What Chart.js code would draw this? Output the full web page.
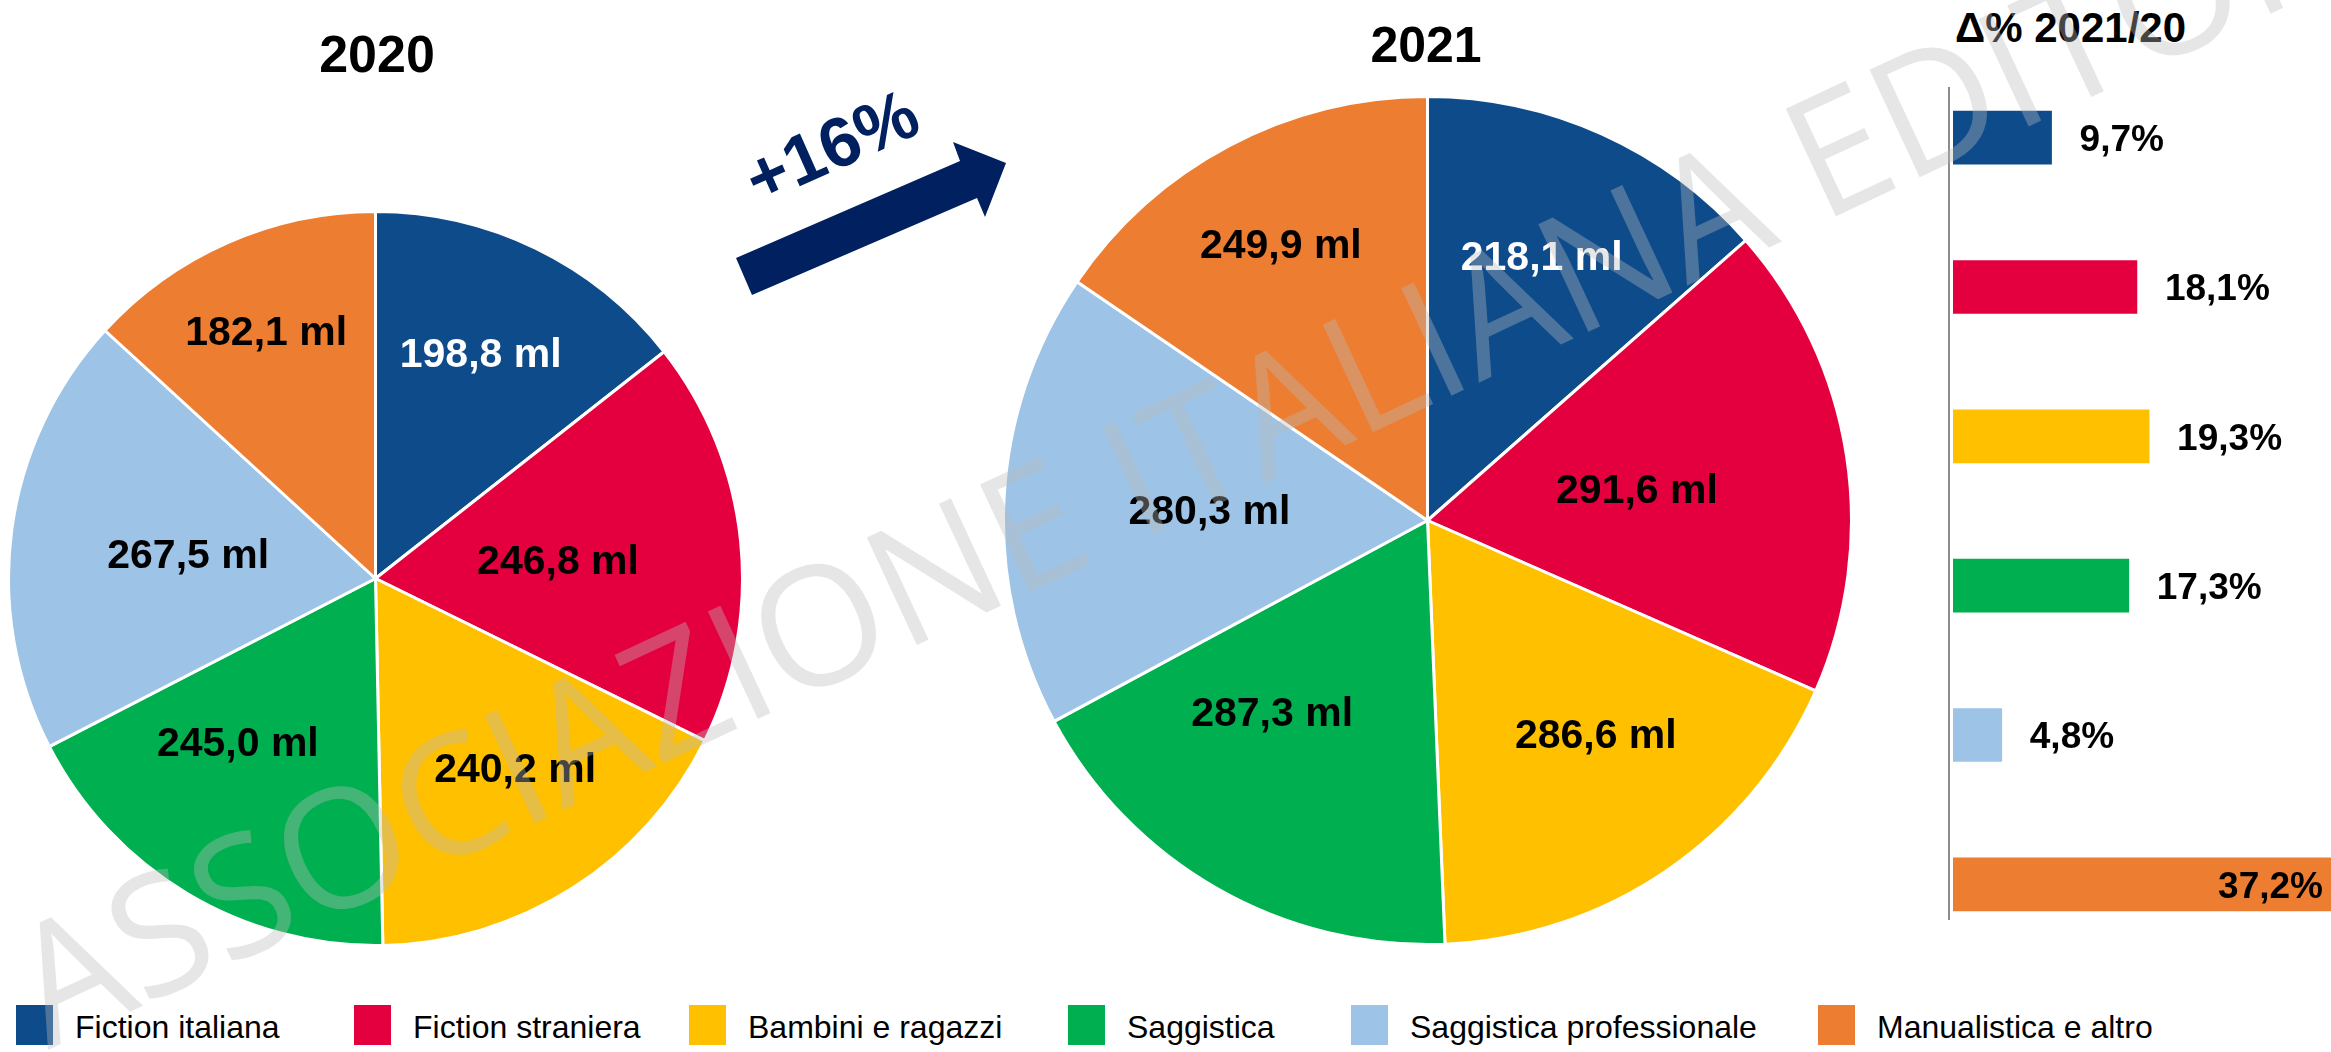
<!DOCTYPE html>
<html><head><meta charset="utf-8">
<script src="https://cdn.jsdelivr.net/npm/chart.js@4/dist/chart.umd.min.js"></script>
<style>
html,body{margin:0;padding:0;background:#fff;}
#stage{position:relative;width:2331px;height:1052px;overflow:hidden;font-family:"Liberation Sans",Arial,sans-serif;}
#stage canvas{position:absolute;}
.t{position:absolute;white-space:nowrap;line-height:1;color:#000;}
.b{font-weight:bold;}
.sq{position:absolute;width:37px;height:40px;top:1005px;}
</style></head><body>
<div id="stage">
  <canvas id="pie2020" width="737" height="737" style="left:7px;top:210px"></canvas>
  <canvas id="pie2021" width="851" height="851" style="left:1002px;top:95px"></canvas>
  <canvas id="bars" width="386" height="896" style="left:1945px;top:63px"></canvas>
  <div id="title2020" class="t b" style="left:227px;width:300px;text-align:center;top:28px;font-size:52px"></div>
  <div id="title2021" class="t b" style="left:1276px;width:300px;text-align:center;top:20px;font-size:50px"></div>
  <div id="titleDelta" class="t b" style="left:1955px;top:7px;font-size:42px"></div>
  <div id="legend"></div>
  <canvas id="overlay" width="2331" height="1052" style="left:0;top:0;pointer-events:none"></canvas>
</div>
<script>
// ---- data ----
const categories = ['Fiction italiana','Fiction straniera','Bambini e ragazzi','Saggistica','Saggistica professionale','Manualistica e altro'];
const years = ['2020','2021'];
const sales2020 = [198.8, 246.8, 240.2, 245.0, 267.5, 182.1];
const sales2021 = [218.1, 291.6, 286.6, 287.3, 280.3, 249.9];
const deltaPct = [9.7, 18.1, 19.3, 17.3, 4.8, 37.2];
const deltaTitle = 'Δ% 2021/20';
const totalGrowth = '+16%';
const unit = 'ml';
const watermark = 'ASSOCIAZIONE ITALIANA EDITORI';

// ---- styles ----
const colors = ['#0E4B8B','#E4003E','#FFC000','#00B050','#9DC3E6','#ED7D31'];
const labelColors = ['#ffffff','#000000','#000000','#000000','#000000','#000000'];
const labelRadius = [0.68,0.50,0.64,0.58,0.515,0.74];
const labelShiftDeg = [-1,0,-4,9.5,0,0];
const legendLeft = [16,354,689,1068,1351,1818];
const FONT = '"Liberation Sans", Arial, sans-serif';

const fmt = v => v.toFixed(1).replace('.', ',');

document.getElementById('title2020').textContent = years[0];
document.getElementById('title2021').textContent = years[1];
document.getElementById('titleDelta').textContent = deltaTitle;

const legend = document.getElementById('legend');
categories.forEach((c,i)=>{
  const sq = document.createElement('div');
  sq.className='sq'; sq.style.left=legendLeft[i]+'px'; sq.style.background=colors[i];
  legend.appendChild(sq);
  const tx = document.createElement('div');
  tx.className='t'; tx.style.left=(legendLeft[i]+59)+'px'; tx.style.top='1011px'; tx.style.fontSize='32px';
  tx.textContent=c;
  legend.appendChild(tx);
});

const pieLabelPlugin = {
  id:'pieLabels',
  afterDatasetsDraw(chart){
    const ctx=chart.ctx, meta=chart.getDatasetMeta(0), ds=chart.data.datasets[0];
    const fs=41;
    ctx.save();
    ctx.font='bold '+fs+'px '+FONT;
    ctx.textAlign='center'; ctx.textBaseline='alphabetic';
    meta.data.forEach((arc,i)=>{
      const p=arc.getProps(['x','y','startAngle','endAngle','outerRadius'],true);
      const a=(p.startAngle+p.endAngle)/2 + labelShiftDeg[i]*Math.PI/180;
      const r=p.outerRadius*labelRadius[i];
      ctx.fillStyle=labelColors[i];
      ctx.fillText(fmt(ds.data[i])+' '+unit, p.x+r*Math.cos(a), p.y+r*Math.sin(a)+fs*0.358);
    });
    ctx.restore();
  }
};

function makePie(id, values){
  return new Chart(document.getElementById(id), {
    type:'pie',
    data:{labels:categories, datasets:[{data:values, backgroundColor:colors, borderColor:'#ffffff', borderWidth:3}]},
    options:{responsive:false, animation:false, events:[], layout:{padding:0},
      plugins:{legend:{display:false}, tooltip:{enabled:false}, title:{display:false}}},
    plugins:[pieLabelPlugin]
  });
}
makePie('pie2020', sales2020);
makePie('pie2021', sales2021);

const axisLinePlugin = {
  id:'axisLine',
  beforeDatasetsDraw(chart){
    const {ctx, chartArea:a}=chart;
    ctx.save(); ctx.strokeStyle='#8c8c8c'; ctx.lineWidth=2;
    ctx.beginPath(); ctx.moveTo(a.left-4, a.top+24); ctx.lineTo(a.left-4, a.bottom-39); ctx.stroke();
    ctx.restore();
  }
};
const barLabelPlugin = {
  id:'barLabels',
  afterDatasetsDraw(chart){
    const ctx=chart.ctx, meta=chart.getDatasetMeta(0), ds=chart.data.datasets[0], a=chart.chartArea;
    const fs=37;
    ctx.save(); ctx.font='bold '+fs+'px '+FONT; ctx.fillStyle='#000'; ctx.textBaseline='alphabetic';
    meta.data.forEach((bar,i)=>{
      const p=bar.getProps(['x','y'],true);
      const txt=fmt(ds.data[i])+'%';
      const w=ctx.measureText(txt).width;
      if(p.x+28+w > a.right){ ctx.textAlign='right'; ctx.fillText(txt, p.x-8, p.y+fs*0.358); }
      else { ctx.textAlign='left'; ctx.fillText(txt, p.x+28, p.y+fs*0.358); }
    });
    ctx.restore();
  }
};
new Chart(document.getElementById('bars'), {
  type:'bar',
  data:{labels:categories, datasets:[{data:deltaPct, backgroundColor:colors, barThickness:53}]},
  options:{indexAxis:'y', responsive:false, animation:false, events:[],
    layout:{padding:{left:8,top:0,right:0,bottom:0}},
    scales:{x:{display:false, min:0, max:Math.max(...deltaPct)}, y:{display:false}},
    plugins:{legend:{display:false}, tooltip:{enabled:false}}},
  plugins:[axisLinePlugin, barLabelPlugin]
});

// ---- overlay: growth arrow + watermark ----
const oc=document.getElementById('overlay').getContext('2d');
oc.fillStyle='#002060';
oc.beginPath();
[[736,258],[960,161],[953,142],[1006,163],[985,217],[977,198],[752,295]].forEach((q,i)=>i?oc.lineTo(q[0],q[1]):oc.moveTo(q[0],q[1]));
oc.closePath(); oc.fill();
oc.save();
oc.translate(831,145); oc.rotate(-24*Math.PI/180);
oc.font='bold 70px '+FONT; oc.textAlign='center'; oc.textBaseline='alphabetic';
oc.fillText(totalGrowth, 0, 70*0.358);
oc.restore();

oc.save();
oc.translate(48,1050); oc.rotate(-25*Math.PI/180);
oc.font='normal 166px "Open Sans", "Liberation Sans", sans-serif';
oc.fillStyle='rgba(187,187,187,0.37)';
oc.textAlign='left'; oc.textBaseline='alphabetic';
oc.fillText(watermark, 0, 0);
oc.restore();
</script>
</body></html>
